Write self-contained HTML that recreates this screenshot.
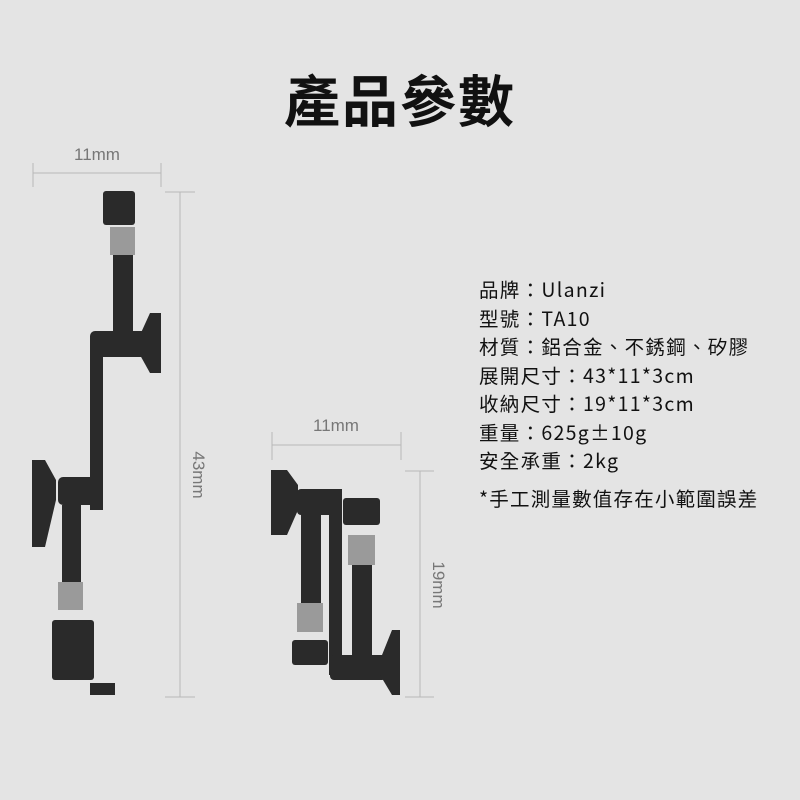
<!DOCTYPE html>
<html><head><meta charset="utf-8"><style>
html,body{margin:0;padding:0}
body{width:800px;height:800px;background:#e4e4e4;position:relative;overflow:hidden;font-family:"Liberation Sans","Noto Sans CJK TC",sans-serif}
.t{position:absolute;left:0;width:800px;top:58px;text-align:center;font-size:56px;font-weight:bold;color:#111;font-family:"Noto Sans CJK TC",sans-serif;letter-spacing:2px}
.spec{position:absolute;left:479px;top:275px;font-size:19.5px;line-height:28.5px;color:#111;font-family:"Noto Sans CJK TC",sans-serif;letter-spacing:1.3px}
.note{position:absolute;left:479px;top:483px;font-size:19.5px;color:#111;font-family:"Noto Sans CJK TC",sans-serif;letter-spacing:1.2px}
</style></head><body>
<div class="t">產品參數</div>
<div class="spec">品牌：Ulanzi<br>型號：TA10<br>材質：鋁合金、不銹鋼、矽膠<br>展開尺寸：43*11*3cm<br>收納尺寸：19*11*3cm<br>重量：625g±10g<br>安全承重：2kg</div>
<div class="note">*手工測量數值存在小範圍誤差</div>
<svg width="800" height="800" style="position:absolute;left:0;top:0">
<g stroke="#b8b8b8" stroke-width="1" fill="none">
<line x1="33" y1="173" x2="161" y2="173"/><line x1="33" y1="163" x2="33" y2="187"/><line x1="161" y1="163" x2="161" y2="187"/>
<line x1="180" y1="192" x2="180" y2="697"/><line x1="165" y1="192" x2="195" y2="192"/><line x1="165" y1="697" x2="195" y2="697"/>
<line x1="272" y1="445" x2="401" y2="445"/><line x1="272" y1="432" x2="272" y2="460"/><line x1="401" y1="432" x2="401" y2="460"/>
<line x1="420" y1="471" x2="420" y2="697"/><line x1="405" y1="471" x2="434" y2="471"/><line x1="405" y1="697" x2="434" y2="697"/>
</g>
<g fill="#777" font-size="17" font-family="Liberation Sans,sans-serif">
<text x="97" y="160" text-anchor="middle">11mm</text>
<text x="336" y="431" text-anchor="middle">11mm</text>
<text transform="translate(193,475) rotate(90)" text-anchor="middle">43mm</text>
<text transform="translate(433,585) rotate(90)" text-anchor="middle">19mm</text>
</g>
<g fill="#2a2a2a">
<rect x="103" y="191" width="32" height="34" rx="3"/>
<rect x="110" y="227" width="25" height="28" fill="#9a9a9a"/>
<rect x="113" y="255" width="20" height="80"/>
<rect x="90" y="331" width="62" height="26" rx="5"/>
<path d="M140 335 L150 313 L161 313 L161 373 L150 373 L140 355Z"/>
<rect x="90" y="350" width="13" height="160"/>
<rect x="58" y="477" width="45" height="28" rx="5"/>
<path d="M56 480 L45 460 L32 460 L32 547 L45 547 L56 500Z"/>
<rect x="62" y="505" width="19" height="80"/>
<rect x="58" y="582" width="25" height="28" fill="#9a9a9a"/>
<rect x="52" y="620" width="42" height="60" rx="3"/>
<rect x="90" y="683" width="25" height="12"/>
<path d="M298 485 L287 470 L271 470 L271 535 L287 535 L298 510Z"/>
<rect x="297" y="489" width="45" height="26" rx="4"/>
<rect x="301" y="510" width="20" height="95"/>
<rect x="297" y="603" width="26" height="29" fill="#9a9a9a"/>
<rect x="292" y="640" width="36" height="25" rx="3"/>
<rect x="329" y="489" width="13" height="186"/>
<rect x="343" y="498" width="37" height="27" rx="3"/>
<rect x="348" y="535" width="27" height="30" fill="#9a9a9a"/>
<rect x="352" y="565" width="20" height="92"/>
<rect x="330" y="655" width="56" height="25" rx="4"/>
<path d="M380 660 L392 630 L400 630 L400 695 L392 695 L380 675Z"/>
</g>
</svg>
</body></html>
